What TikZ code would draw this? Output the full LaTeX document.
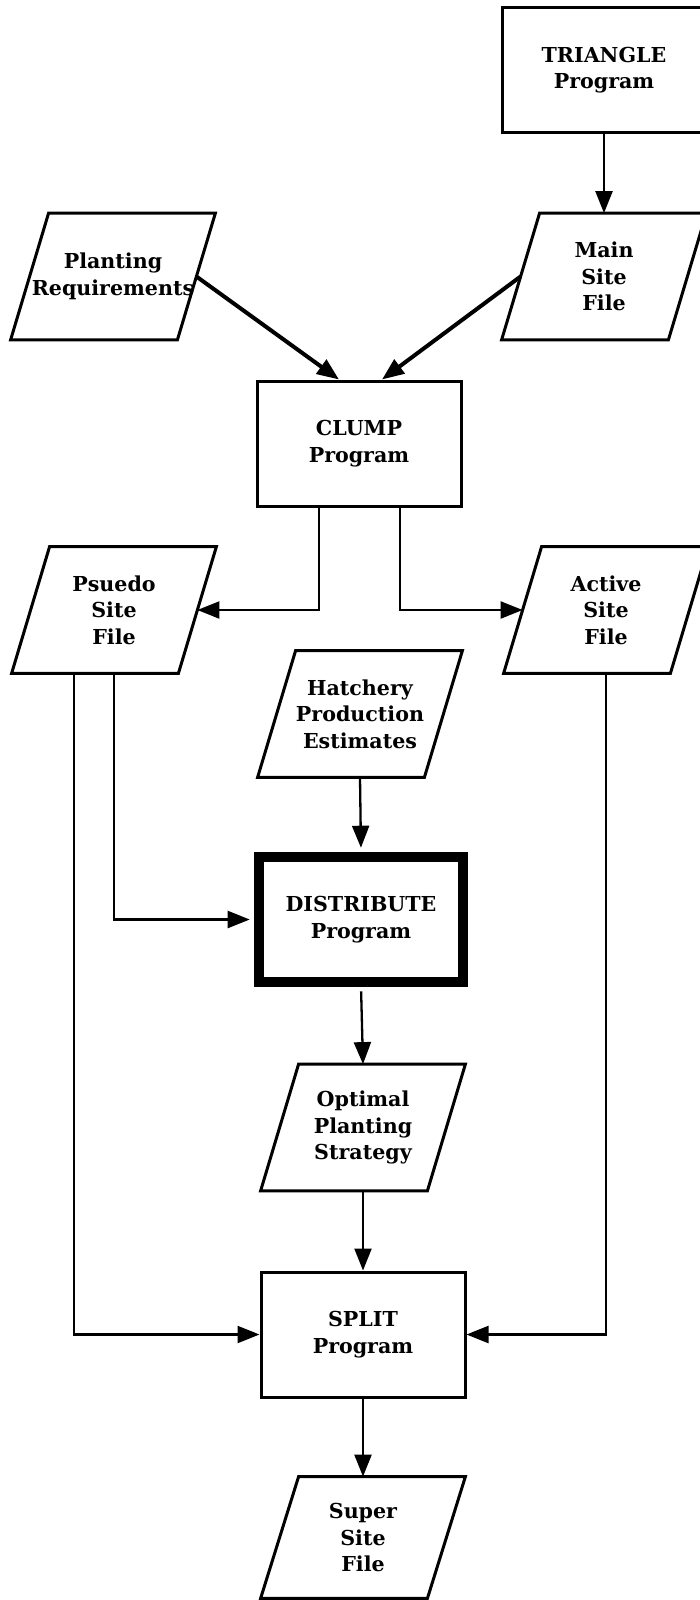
\documentclass[tikz,border=0pt]{standalone}
\usepackage{fontspec}
\setmainfont{DejaVu Serif}
\usetikzlibrary{arrows.meta}
\newcommand\chartfont{\fontsize{10.3}{13.3}\selectfont\bfseries}
\tikzset{
  prog/.style={rectangle, draw, line width=1.5pt, minimum width=102pt, minimum height=62.5pt, inner sep=0pt, align=center, font=\chartfont},
  mainprog/.style={prog, line width=4.7pt},
  datafile/.style={rectangle, minimum width=83pt, minimum height=63pt, inner xsep=-10pt, inner ysep=0pt, align=center, font=\chartfont,
    append after command={\pgfextra{\draw[line width=1.5pt]
      ([xshift=-9.5pt]\tikzlastnode.south west) -- ([xshift=9.5pt]\tikzlastnode.north west)
      -- ([xshift=9.5pt]\tikzlastnode.north east) -- ([xshift=-9.5pt]\tikzlastnode.south east) -- cycle;}}},
  flow/.style={line width=1.15pt, -{Triangle[length=11pt, width=8.5pt]}},
  bigflow/.style={flow, line width=2pt},
}
\begin{document}
\begin{tikzpicture}[x=0.5pt, y=-0.5pt]
  \useasboundingbox (0,0) rectangle (700,1600);

  % programs
  \node[prog] (triangle) at (604,70) {TRIANGLE\\Program};
  \node[prog] (clump) at (359,443.5) {CLUMP\\Program};
  \node[mainprog] (distribute) at (361,919.5) {DISTRIBUTE\\Program};
  \node[prog] (split) at (363,1334.5) {SPLIT\\Program};

  % data files
  \node[datafile] (planting) at (113,276.5) {Planting\\Requirements};
  \node[datafile] (mainsite) at (604,276.5) {Main\\Site\\File};
  \node[datafile] (psuedo) at (114,610) {Psuedo\\Site\\File};
  \node[datafile] (active) at (606,610) {Active\\Site\\File};
  \node[datafile] (hatchery) at (360,714) {Hatchery\\Production\\Estimates};
  \node[datafile] (optimal) at (363,1127.5) {Optimal\\Planting\\Strategy};
  \node[datafile, minimum height=60.5pt] (supersite) at (363,1537.5) {Super\\Site\\File};

  % flows
  \draw[flow] (triangle.south) -- (mainsite.north);
  \draw[bigflow] (planting.east) -- ([xshift=-10pt]clump.north);
  \draw[bigflow] (mainsite.west) -- ([xshift=11.5pt]clump.north);
  \draw[flow] ([xshift=-20pt]clump.south) |- (psuedo.east);
  \draw[flow] ([xshift=20.5pt]clump.south) |- (active.west);
  \draw[flow, shorten >=2.3pt] (psuedo.south) |- (distribute.west);
  \draw[flow] ([xshift=-20pt]psuedo.south) |- (split.west);
  \draw[flow] (active.south) |- (split.east);
  \draw[flow, shorten >=2.3pt] (hatchery.south) -- (distribute.north);
  \draw[flow, shorten <=2.3pt] (distribute.south) -- (optimal.north);
  \draw[flow] (optimal.south) -- (split.north);
  \draw[flow] (split.south) -- (supersite.north);
\end{tikzpicture}
\end{document}
